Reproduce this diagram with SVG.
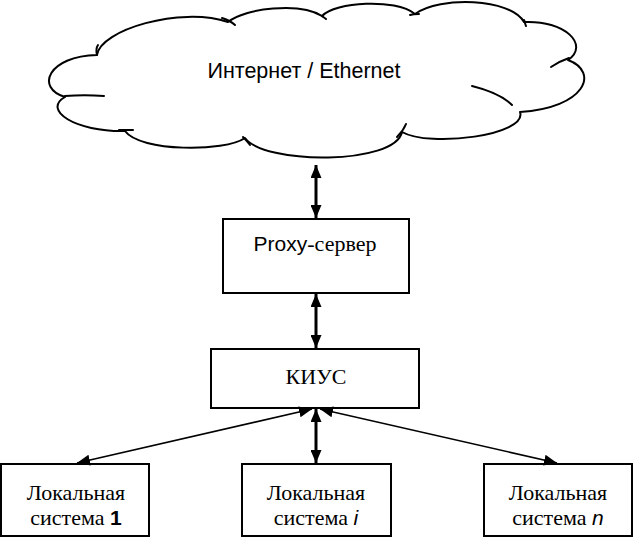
<svg xmlns="http://www.w3.org/2000/svg" width="633" height="540" viewBox="0 0 633 540">
<defs>
<style>
.box{fill:#fff;stroke:#000;stroke-width:2}
.cloud{fill:#fff;stroke:#000;stroke-width:2;stroke-linejoin:round}
.tick{fill:none;stroke:#000;stroke-width:2;stroke-linecap:round}
.serif{font-family:"Liberation Serif","Times New Roman",serif;font-size:22px;fill:#000}
.sans{font-family:"Liberation Sans",Arial,sans-serif;fill:#000}
.thick{stroke:#000;stroke-width:3;fill:none}
.thin{stroke:#000;stroke-width:1.6;fill:none}
</style>
<marker id="ah" viewBox="0 0 13 11" refX="13" refY="5.5" markerWidth="13" markerHeight="11" markerUnits="userSpaceOnUse" orient="auto-start-reverse">
<path d="M0,0 L13,5.5 L0,11 z" fill="#000"/>
</marker>
</defs>

<g id="cloud">
<path class="cloud" d="M97,55 C100,30 180,6 228,22 C245,8 300,2 322,16 C335,2 395,-2 415,14 C440,-4 510,-2 524,22 C565,20 590,45 568,60 C600,72 585,108 520,112 C528,135 430,148 402,132 C395,165 265,165 245,138 C225,152 140,152 125,131 C75,132 42,110 65,97 C35,88 48,56 97,55 Z"/>
<path class="tick" d="M97,55 C96,51 96,48 98,45"/>
<path class="tick" d="M222,18 C228,20 232,22 235,25"/>
<path class="tick" d="M322,16 C323,17 325,18 326,19"/>
<path class="tick" d="M410,15 C413,14 416,14 419,14"/>
<path class="tick" d="M524,20 C525,22 525,24 526,26"/>
<path class="tick" d="M551,67 C557,63 563,60 569,58"/>
<path class="tick" d="M472,86 C488,90 503,96 512,105"/>
<path class="tick" d="M397,137 C401,133 404,129 406,124"/>
<path class="tick" d="M243,137 C246,140 248,142 250,145"/>
<path class="tick" d="M119,130 C124,130 128,130 133,130"/>
<path class="tick" d="M65,96 C78,95 91,95 104,96"/>
<text class="sans" x="304" y="78" font-size="21.5" text-anchor="middle">Интернет / Ethernet</text>
</g>

<g id="proxy">
<rect class="box" x="223" y="219" width="186" height="74"/>
<text x="315" y="251" text-anchor="middle"><tspan class="sans" font-size="21">Proxy</tspan><tspan class="serif">-сервер</tspan></text>
</g>

<g id="kius">
<rect class="box" x="211" y="349" width="208" height="59"/>
<text class="serif" x="316" y="384" text-anchor="middle">КИУС</text>
</g>

<g id="local1">
<rect class="box" x="1" y="464" width="148" height="72"/>
<text class="serif" x="76" y="500" text-anchor="middle">Локальная</text>
<text class="serif" x="76" y="525" text-anchor="middle">система <tspan class="sans" font-weight="bold" font-size="21">1</tspan></text>
</g>

<g id="locali">
<rect class="box" x="242" y="464" width="149" height="72"/>
<text class="serif" x="316" y="500" text-anchor="middle">Локальная</text>
<text class="serif" x="316" y="525" text-anchor="middle">система <tspan class="sans" font-style="italic" font-size="21">i</tspan></text>
</g>

<g id="localn">
<rect class="box" x="484" y="464" width="148" height="72"/>
<text class="serif" x="558" y="500" text-anchor="middle">Локальная</text>
<text class="serif" x="558" y="525" text-anchor="middle">система <tspan class="sans" font-style="italic" font-size="21">n</tspan></text>
</g>

<g id="connectors">
<line class="thick" x1="316" y1="165" x2="316" y2="218" marker-start="url(#ah)" marker-end="url(#ah)"/>
<line class="thick" x1="316" y1="294" x2="316" y2="348" marker-start="url(#ah)" marker-end="url(#ah)"/>
<line class="thick" x1="316" y1="409" x2="316" y2="463" marker-start="url(#ah)" marker-end="url(#ah)"/>
<line class="thin" x1="312" y1="409" x2="77" y2="463" marker-start="url(#ah)" marker-end="url(#ah)"/>
<line class="thin" x1="320" y1="409" x2="557" y2="463" marker-start="url(#ah)" marker-end="url(#ah)"/>
</g>
</svg>
